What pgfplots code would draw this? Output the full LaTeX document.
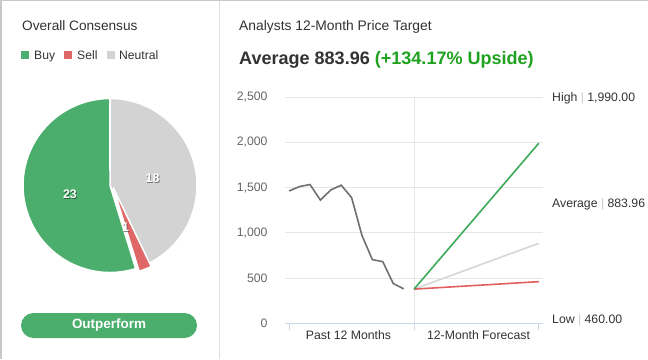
\documentclass[border=0pt]{standalone}
\usepackage{pgfplots}
\pgfplotsset{compat=1.18}
\usepackage{fontspec}
\setmainfont{Liberation Sans}
\definecolor{piegreen}{HTML}{4BAE6D}
\definecolor{piered}{HTML}{E06767}
\definecolor{piegray}{HTML}{D3D3D3}
\definecolor{upgreen}{HTML}{1FA21F}
\definecolor{fgreen}{HTML}{3DAA5A}
\definecolor{fred}{HTML}{E06060}
\definecolor{fgray}{HTML}{D6D6D6}
\definecolor{pline}{HTML}{707070}
\definecolor{gridc}{HTML}{E6E6E6}
\definecolor{axc}{HTML}{CCD6EB}
\definecolor{txt}{HTML}{333333}
\definecolor{lbl}{HTML}{666666}
\def\buy{23}
\def\sell{1}
\def\neutral{18}
\tikzset{plab/.style={text=white, font=\bfseries\fontsize{12.5}{14}\selectfont},
  pshad/.style={text=black, opacity=0.45, font=\bfseries\fontsize{12.5}{14}\selectfont, xshift=0.7bp, yshift=-0.7bp}}
\begin{document}
\begin{tikzpicture}[x=1bp,y=1bp]
\useasboundingbox (0,0) rectangle (648,359);
\fill[white] (0,0) rectangle (648,359);
% frame
\draw[color={rgb,255:red,200;green,200;blue,200}, line width=1.5bp] (0,358.25) -- (648,358.25);
\draw[color={rgb,255:red,200;green,200;blue,200}, line width=1.5bp] (0.75,0) -- (0.75,359);
\draw[color={rgb,255:red,222;green,222;blue,222}, line width=1bp] (219.5,0) -- (219.5,358);
% left titles
\node[anchor=base west, inner sep=0, text=txt, font=\fontsize{13.7}{16}\selectfont] at (22,328.5) {Overall Consensus};
\fill[piegreen] (21,300) rectangle (29,308);
\node[anchor=base west, inner sep=0, text=txt, font=\fontsize{12.2}{14}\selectfont] at (34,299.5) {Buy};
\fill[piered] (64,300) rectangle (72,308);
\node[anchor=base west, inner sep=0, text=txt, font=\fontsize{12.2}{14}\selectfont] at (77,299.5) {Sell};
\fill[piegray] (107,300) rectangle (115,308);
\node[anchor=base west, inner sep=0, text=txt, font=\fontsize{12.2}{14}\selectfont] at (119,299.5) {Neutral};
% pie
\pgfmathsetmacro{\tot}{\buy+\sell+\neutral}
\pgfmathsetmacro{\aA}{90}
\pgfmathsetmacro{\aB}{90-\neutral/\tot*360}
\pgfmathsetmacro{\aC}{\aB-\sell/\tot*360}
\pgfmathsetmacro{\aD}{\aC-\buy/\tot*360}
\begin{axis}[at={(110bp,173.5bp)}, anchor=center, scale only axis, width=174bp, height=174bp,
  xmin=-1, xmax=1, ymin=-1, ymax=1, hide axis, clip=false]
\filldraw[piegray, draw=white, line width=1.5bp, line join=round] (axis cs:0,0) -- (axis cs:{cos(\aA)},{sin(\aA)}) arc[start angle=\aA, end angle=\aB, radius=87bp] -- cycle;
\filldraw[piered, draw=white, line width=1.5bp, line join=round] (axis cs:0.04,-0.03) -- (axis cs:{0.04+cos(\aB)},{-0.03+sin(\aB)}) arc[start angle=\aB, end angle=\aC, radius=87bp] -- cycle;
\filldraw[piegreen, draw=white, line width=1.5bp, line join=round] (axis cs:0,0) -- (axis cs:{cos(\aC)},{sin(\aC)}) arc[start angle=\aC, end angle=\aD, radius=87bp] -- cycle;
\node[pshad] at (axis cs:-0.46,-0.10) {23};
\node[plab] at (axis cs:-0.46,-0.10) {23};
\node[pshad] at (axis cs:0.49,0.086) {18};
\node[plab] at (axis cs:0.49,0.086) {18};
\node[pshad] at (axis cs:0.18,-0.48) {1};
\node[plab] at (axis cs:0.18,-0.48) {1};
\end{axis}
% button
\fill[piegreen, rounded corners=12.5bp] (21,21) rectangle (197,46);
\node[text=white, font=\bfseries\fontsize{13.5}{16}\selectfont] at (109,33.5) {Outperform};
% right titles
\node[anchor=base west, inner sep=0, text=txt, font=\fontsize{13.9}{16}\selectfont] at (239,329) {Analysts 12-Month Price Target};
\node[anchor=base west, inner sep=0, text=txt, font=\bfseries\fontsize{18.1}{22}\selectfont] at (239,295) {Average 883.96 \textcolor{upgreen}{(+134.17\% Upside)}};
% line chart
\begin{axis}[at={(285bp,35.7bp)}, anchor=south west, scale only axis, width=258bp, height=226.3bp,
  xmin=-0.4, xmax=24.4, ymin=0, ymax=2500,
  ytick={0,500,1000,1500,2000,2500},
  xtick={0,12,24}, xticklabels={},
  axis x line*=bottom, axis y line*=left,
  x axis line style={draw=axc, line width=1bp, -},
  y axis line style={draw=none},
  xtick style={draw=axc, line width=1bp},
  ytick style={draw=none},
  tick align=outside, major tick length=7bp,
  ymajorgrids, grid style={draw=gridc, line width=1bp},
  yticklabel style={text=lbl, font=\fontsize{12.3}{14}\selectfont},
  y tick label style={xshift=-7bp},
  /pgf/number format/.cd, 1000 sep={,}, assume math mode=true,
  /pgfplots/.cd, clip=false]
\draw[gridc, line width=1bp] (axis cs:12,0) -- (axis cs:12,2500);
\addplot[pline, line width=1.6bp, no marks] coordinates {
(0,1462) (1,1511) (2,1533) (3,1362) (4,1473) (5,1526) (6,1389) (7,970) (8,703) (9,681) (10,440) (11,381)};
\addplot[fgray, line width=1.6bp, no marks] coordinates {(12,377.5) (24,883.96)};
\addplot[fred, line width=1.6bp, no marks] coordinates {(12,377.5) (24,460)};
\addplot[fgreen, line width=1.6bp, no marks] coordinates {(12,377.5) (24,1990)};
\node[text=txt, font=\fontsize{12.3}{14}\selectfont] at (axis cs:5.7,-130) {Past 12 Months};
\node[text=txt, font=\fontsize{12.3}{14}\selectfont] at (axis cs:18.2,-130) {12-Month Forecast};
\end{axis}
% right labels
\node[anchor=west, inner sep=0, text=txt, font=\fontsize{12.3}{14}\selectfont] at (552,261) {High \textcolor{gray!40}{|} 1,990.00};
\node[anchor=west, inner sep=0, text=txt, font=\fontsize{12.3}{14}\selectfont] at (552,155) {Average \textcolor{gray!40}{|} 883.96};
\node[anchor=west, inner sep=0, text=txt, font=\fontsize{12.3}{14}\selectfont] at (552,39) {Low \textcolor{gray!40}{|} 460.00};
\end{tikzpicture}
\end{document}
